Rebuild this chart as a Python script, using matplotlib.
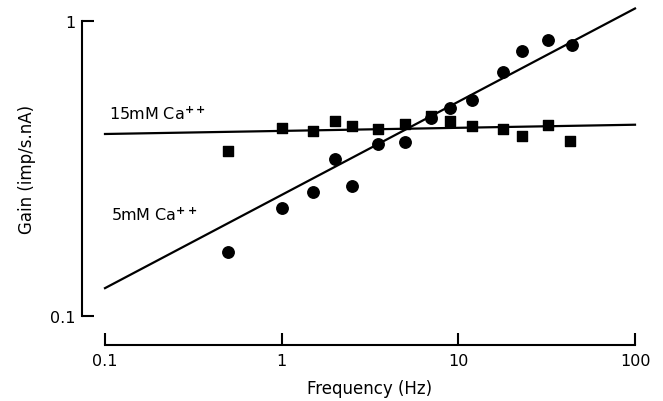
import matplotlib
matplotlib.use("Agg")
import matplotlib.pyplot as plt

# Data
freq_15 = [0.5, 1, 1.5, 2, 2.5, 3.5, 5, 7, 9, 12, 18, 23, 32, 43]
gain_15 = [0.362, 0.433, 0.424, 0.456, 0.44, 0.43, 0.447, 0.474, 0.458, 0.439, 0.43, 0.407, 0.444, 0.39]

freq_5 = [0.5, 1, 1.5, 2, 2.5, 3.5, 5, 7, 9, 12, 18, 23, 32, 44]
gain_5 = [0.164, 0.232, 0.262, 0.34, 0.275, 0.382, 0.387, 0.468, 0.506, 0.538, 0.668, 0.791, 0.863, 0.83]

fit_x = [0.1, 100]
fit_15 = [0.413, 0.444]
fit_5 = [0.124, 1.10]

xticks = [0.1, 1, 10, 100]
xticklabels = ["0.1", "1", "10", "100"]
yticks = [0.1, 1]
yticklabels = ["0.1", "1"]

plt.rcParams['font.family'] = ['DejaVu Sans']

fig = plt.figure(figsize=(6.63, 4.02), dpi=100)
ax = fig.add_axes([105/663, 1-316.7/402, 530/663, 295/402])
ax.set_xscale('log')
ax.set_yscale('log')
ax.set_xlim(0.1, 100)
ax.set_ylim(0.1, 1)

ax.plot(fit_x, fit_15, color='black', lw=1.6, clip_on=False)
ax.plot(fit_x, fit_5, color='black', lw=1.6, clip_on=False)
ax.scatter(freq_15, gain_15, marker='s', s=62, color='black', zorder=3, clip_on=False)
ax.scatter(freq_5, gain_5, marker='o', s=68, color='black', zorder=3, clip_on=False)

ax.text(0.106, 0.453, "15mM Ca$^{\\mathbf{++}}$", fontsize=11.5, ha='left', va='bottom')
ax.text(0.108, 0.206, "5mM Ca$^{\\mathbf{++}}$", fontsize=11.5, ha='left', va='bottom')

for s in ['top', 'right']:
    ax.spines[s].set_visible(False)
ax.spines['left'].set_position(('outward', 16.5))
ax.spines['bottom'].set_position(('outward', 21))
ax.spines['left'].set_linewidth(1.5)
ax.spines['bottom'].set_linewidth(1.5)

ax.set_xticks(xticks)
ax.set_xticklabels(xticklabels)
ax.set_yticks(yticks)
ax.set_yticklabels(yticklabels)
ax.minorticks_off()
ax.tick_params(axis='both', direction='in', length=8.5, width=1.5, labelsize=11.5, pad=6)
ax.tick_params(axis='y', pad=5)

ax.set_xlabel("Frequency (Hz)", fontsize=12, labelpad=8)
ax.set_ylabel("Gain (imp/s.nA)", fontsize=12, labelpad=10)

fig.savefig("out.png", dpi=100)
